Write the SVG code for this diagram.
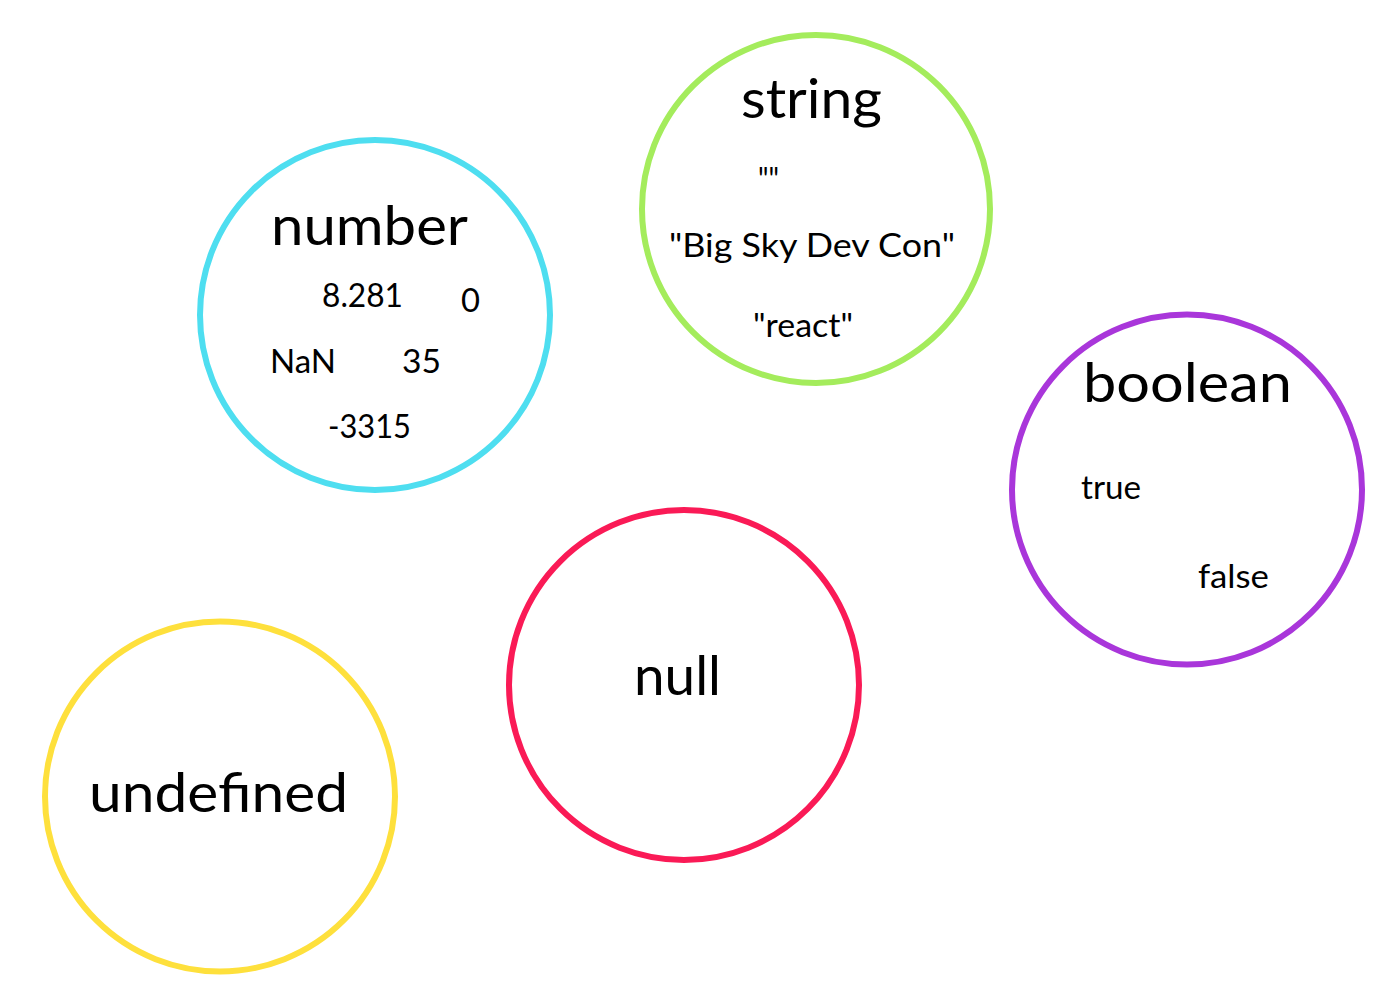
<svg xmlns="http://www.w3.org/2000/svg" width="1387" height="993" viewBox="0 0 1387 993">
<style>
.ring{fill:none;stroke-width:6}
.t{font-family:Lato,"Open Sans","Liberation Sans",sans-serif;fill:#000}
.title{font-size:54px}
.item{font-size:32px}
</style>
<rect width="1387" height="993" fill="#fff"/>
<g id="connectors"/>
<g id="node-number">
<circle class="ring" cx="375" cy="315" r="175" stroke="#4EDEF0"/>
<text class="t title" x="271" y="245" textLength="197" lengthAdjust="spacingAndGlyphs">number</text>
<text class="t item" x="322" y="307" textLength="81" lengthAdjust="spacingAndGlyphs">8.281</text>
<text class="t item" x="461" y="312" textLength="19" lengthAdjust="spacingAndGlyphs">0</text>
<text class="t item" x="270" y="373" textLength="66" lengthAdjust="spacingAndGlyphs">NaN</text>
<text class="t item" x="402" y="373" textLength="39" lengthAdjust="spacingAndGlyphs">35</text>
<text class="t item" x="328" y="438" textLength="83" lengthAdjust="spacingAndGlyphs">-3315</text>
</g>
<g id="node-string">
<circle class="ring" cx="816" cy="209" r="174" stroke="#A4EC5C"/>
<text class="t title" x="741" y="118" textLength="141" lengthAdjust="spacingAndGlyphs">string</text>
<text class="t item" x="758" y="191" textLength="21" lengthAdjust="spacingAndGlyphs">""</text>
<text class="t item" x="669" y="257" textLength="286" lengthAdjust="spacingAndGlyphs">"Big Sky Dev Con"</text>
<text class="t item" x="753" y="337" textLength="100" lengthAdjust="spacingAndGlyphs">"react"</text>
</g>
<g id="node-boolean">
<circle class="ring" cx="1187" cy="489.5" r="175" stroke="#A936DA"/>
<text class="t title" x="1083" y="402" textLength="209" lengthAdjust="spacingAndGlyphs">boolean</text>
<text class="t item" x="1081" y="499" textLength="60" lengthAdjust="spacingAndGlyphs">true</text>
<text class="t item" x="1198" y="588" textLength="71" lengthAdjust="spacingAndGlyphs">false</text>
</g>
<g id="node-null">
<circle class="ring" cx="684" cy="685" r="175" stroke="#FA1A56"/>
<text class="t title" x="634" y="695" textLength="87" lengthAdjust="spacingAndGlyphs">null</text>
</g>
<g id="node-undefined">
<circle class="ring" cx="220" cy="796.5" r="175" stroke="#FEE03C"/>
<text class="t title" x="89" y="812" textLength="259" lengthAdjust="spacingAndGlyphs">undefined</text>
</g>
</svg>
